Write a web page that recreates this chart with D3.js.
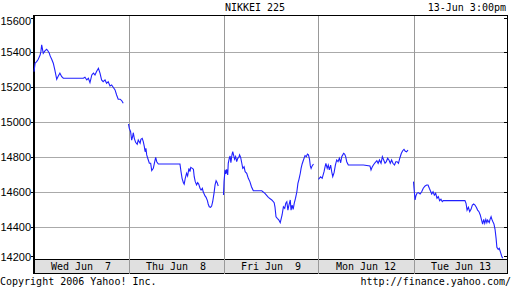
<!doctype html>
<html>
<head>
<style>
  body { margin: 0; background: #fff; }
  svg { display: block; }
  text { font-family: "DejaVu Sans Mono", monospace; font-size: 10px; fill: #000; }
  .ylab { font-family: "Liberation Sans", Arial, sans-serif; font-size: 11px; }
</style>
<script src="https://cdn.jsdelivr.net/npm/d3@7"></script>
</head>
<body>
<svg width="512" height="288"></svg>
<script>
// day labels (two spaces before single digit dates, like the original)
var dayLabels = ["Wed Jun  7", "Thu Jun  8", "Fri Jun  9", "Mon Jun 12", "Tue Jun 13"];
var yTicks = [14200, 14400, 14600, 14800, 15000, 15200, 15400, 15600];

// [minutes after 9:00, index value]
var wed = [[2,15287],[6,15335],[12,15344],[18,15358],[25,15382],[28,15401],[31,15440],[37,15392],[44,15407],[50,15415],[55,15405],[60,15392],[63,15377],[69,15358],[75,15335],[81,15296],[88,15243],[94,15262],[100,15278],[107,15258],[113,15249],[189,15249],[195,15255],[202,15239],[208,15249],[214,15224],[221,15268],[227,15278],[233,15268],[239,15287],[246,15306],[252,15278],[258,15239],[264,15229],[271,15239],[277,15220],[283,15229],[290,15205],[296,15210],[302,15197],[309,15182],[315,15153],[321,15129],[328,15129],[334,15121],[340,15106]];
var thu = [[0,14987],[3,14962],[8,14943],[12,14895],[16,14918],[18,14937],[22,14905],[27,14882],[33,14871],[37,14895],[44,14877],[47,14899],[52,14905],[56,14886],[60,14857],[63,14828],[66,14848],[69,14810],[75,14781],[79,14762],[84,14762],[88,14720],[94,14733],[98,14762],[103,14796],[107,14771],[113,14758],[195,14758],[199,14714],[203,14676],[208,14651],[211,14643],[215,14676],[220,14705],[224,14689],[229,14733],[233,14714],[236,14739],[242,14733],[246,14728],[249,14685],[253,14657],[258,14638],[262,14651],[266,14643],[271,14619],[275,14609],[280,14619],[283,14599],[290,14575],[294,14567],[299,14548],[302,14529],[306,14513],[311,14510],[315,14517],[319,14542],[324,14590],[328,14638],[332,14662],[336,14651],[340,14632]];
var fri = [[0,14580],[2,14657],[6,14724],[9,14701],[12,14728],[16,14695],[18,14762],[22,14791],[25,14804],[28,14765],[32,14810],[35,14828],[39,14804],[42,14785],[46,14800],[50,14771],[54,14791],[58,14796],[61,14810],[65,14796],[69,14765],[73,14733],[78,14742],[82,14714],[88,14705],[94,14676],[100,14657],[106,14628],[113,14605],[145,14605],[157,14590],[170,14567],[183,14552],[192,14536],[195,14513],[199,14456],[204,14447],[210,14437],[215,14422],[218,14441],[222,14466],[227,14513],[232,14504],[236,14533],[240,14542],[244,14494],[248,14523],[253,14552],[256,14494],[260,14523],[264,14498],[268,14533],[273,14562],[278,14599],[282,14647],[286,14670],[291,14705],[294,14733],[298,14758],[303,14781],[309,14806],[314,14800],[318,14815],[322,14810],[326,14785],[329,14747],[332,14733],[336,14747],[341,14758]];
var mon = [[0,14670],[8,14685],[14,14676],[21,14714],[25,14743],[28,14762],[33,14733],[37,14752],[41,14724],[46,14752],[50,14714],[54,14685],[59,14708],[64,14752],[69,14781],[74,14771],[79,14791],[84,14765],[88,14800],[92,14810],[95,14819],[99,14815],[103,14800],[107,14771],[113,14752],[170,14752],[195,14747],[199,14724],[203,14739],[208,14752],[214,14765],[221,14777],[226,14762],[231,14781],[237,14762],[242,14800],[247,14781],[252,14762],[257,14771],[262,14791],[267,14781],[272,14762],[277,14781],[282,14762],[288,14752],[293,14771],[298,14771],[303,14762],[308,14791],[314,14819],[319,14834],[324,14842],[329,14831],[334,14828],[339,14838]];
var tue = [[0,14657],[2,14619],[6,14552],[9,14575],[13,14590],[18,14594],[25,14586],[31,14599],[37,14619],[44,14632],[50,14638],[55,14638],[60,14619],[64,14605],[69,14586],[74,14599],[79,14580],[84,14590],[89,14562],[94,14571],[99,14548],[104,14556],[109,14542],[113,14548],[195,14548],[199,14533],[203,14494],[208,14510],[213,14485],[218,14498],[223,14523],[228,14529],[233,14523],[238,14510],[243,14494],[248,14485],[253,14466],[258,14437],[262,14414],[266,14441],[270,14418],[274,14441],[278,14422],[281,14437],[287,14422],[290,14441],[294,14456],[297,14441],[301,14427],[305,14414],[309,14384],[313,14332],[316,14281],[321,14269],[325,14275],[329,14256],[334,14231],[338,14218]];
var days = [wed, thu, fri, mon, tue];

var svg = d3.select("svg");
var pLeft = 33.5, pRight = 507.5, pTop = 15.5, pBottom = 259.5, barBottom = 273.5;
var dayLen = 360;

var x = d3.scaleLinear().domain([0, dayLabels.length * dayLen]).range([pLeft, pRight + 1]);
var y = d3.scaleLinear().domain([14214, 15611]).range([259, 15]);

// title and time stamp
svg.append("text").attr("x", 255).attr("y", 11).attr("text-anchor", "middle").text("NIKKEI 225");
svg.append("text").attr("x", 506).attr("y", 11).attr("text-anchor", "end").text("13-Jun 3:00pm");

// date bar
svg.append("rect")
   .attr("x", pLeft).attr("y", pBottom)
   .attr("width", pRight - pLeft).attr("height", barBottom - pBottom)
   .attr("fill", "#e0e0e0").attr("stroke", "#000").attr("shape-rendering", "crispEdges");

// horizontal grid
var inner = yTicks.filter(function(d) { return y(d) > pTop + 2 && y(d) < pBottom - 2; });
svg.append("g").selectAll("line").data(inner).enter().append("line")
   .attr("x1", pLeft).attr("x2", pRight)
   .attr("y1", function(d) { return Math.round(y(d)) + 0.5; })
   .attr("y2", function(d) { return Math.round(y(d)) + 0.5; })
   .attr("stroke", "#aaa").attr("shape-rendering", "crispEdges");

// vertical day separators
var seps = d3.range(1, dayLabels.length);
svg.append("g").selectAll("line").data(seps).enter().append("line")
   .attr("x1", function(d) { return Math.round(x(d * dayLen)) + 0.5; })
   .attr("x2", function(d) { return Math.round(x(d * dayLen)) + 0.5; })
   .attr("y1", pTop).attr("y2", barBottom)
   .attr("stroke", "#999").attr("shape-rendering", "crispEdges");

// day labels
svg.append("g").selectAll("text").data(dayLabels).enter().append("text")
   .attr("x", function(d, i) { return x(i * dayLen + dayLen / 2); })
   .attr("y", 270)
   .attr("text-anchor", "middle")
   .attr("xml:space", "preserve")
   .style("white-space", "pre")
   .text(function(d) { return d; });

// frame
svg.append("path")
   .attr("d", "M" + pLeft + "," + pBottom + "V" + pTop + "H" + pRight + "V" + pBottom)
   .attr("fill", "none").attr("stroke", "#000").attr("shape-rendering", "crispEdges");
svg.append("line").attr("x1", pLeft + 1).attr("x2", pLeft + 1).attr("y1", pTop).attr("y2", barBottom)
   .attr("stroke", "#000").attr("shape-rendering", "crispEdges");

// y ticks + labels
var tk = svg.append("g");
yTicks.forEach(function(d) {
    var yy = Math.round(Math.min(Math.max(y(d), 18), 256)) + 0.5;
    tk.append("line").attr("x1", pLeft - 3).attr("x2", pLeft).attr("y1", yy).attr("y2", yy)
      .attr("stroke", "#000").attr("shape-rendering", "crispEdges");
    tk.append("line").attr("x1", pRight - 4).attr("x2", pRight).attr("y1", yy).attr("y2", yy)
      .attr("stroke", "#000").attr("shape-rendering", "crispEdges");
    tk.append("text").attr("class", "ylab")
      .attr("x", 31).attr("y", Math.min(Math.max(y(d), 21), 257) + 4)
      .attr("text-anchor", "end").text(d);
});

// price line, one path per trading day
var line = d3.line()
    .x(function(d) { return x(d.t); })
    .y(function(d) { return y(d.v); });

days.forEach(function(pts, i) {
    var data = pts.map(function(p) { return { t: i * dayLen + p[0], v: p[1] }; });
    svg.append("path").datum(data)
       .attr("d", line)
       .attr("fill", "none")
       .attr("stroke", "#2020ff")
       .attr("stroke-width", 1.1);
});

// footer
svg.append("text").attr("x", 0).attr("y", 285).text("Copyright 2006 Yahoo! Inc.");
svg.append("text").attr("x", 511).attr("y", 285).attr("text-anchor", "end").text("http://finance.yahoo.com/");
</script>
</body>
</html>
